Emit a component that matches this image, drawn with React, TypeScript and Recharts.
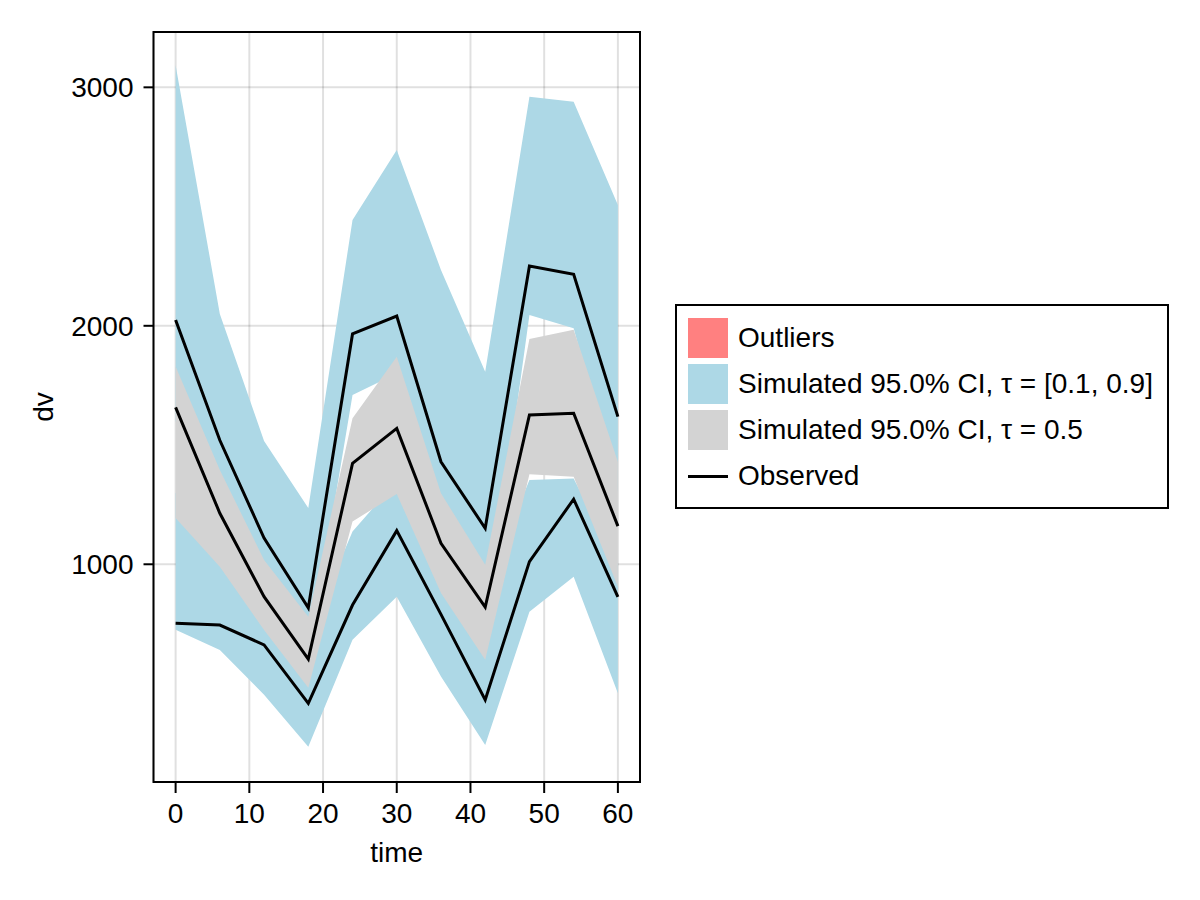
import React from 'react';
import {
  ComposedChart,
  Area,
  Line,
  XAxis,
  YAxis,
  CartesianGrid,
  ReferenceArea,
  Label,
} from 'recharts';

const times = [0, 6, 12, 18, 24, 30, 36, 42, 48, 54, 60];

// Simulated 95% CI of the 0.9 quantile
const upperCiLow = [1600, 1300, 950, 600, 1710, 1800, 1200, 700, 2045, 1990, 1300];
const upperCiHigh = [3093, 2050, 1517, 1236, 2444, 2737, 2234, 1807, 2961, 2940, 2507];

// Simulated 95% CI of the median
const medianCiLow = [1194, 990, 724, 482, 1179, 1295, 880, 600, 1378, 1367, 906];
const medianCiHigh = [1829, 1395, 1018, 780, 1612, 1870, 1298, 998, 1945, 1983, 1430];

// Simulated 95% CI of the 0.1 quantile
const lowerCiLow = [725, 641, 453, 235, 683, 864, 529, 242, 801, 948, 459];
const lowerCiHigh = [1300, 1100, 800, 700, 1137, 1350, 950, 900, 1353, 1360, 1000];

// Observed quantiles
const observedHigh = [2024, 1520, 1110, 817, 1966, 2041, 1430, 1151, 2251, 2216, 1619];
const observedMedian = [1658, 1214, 864, 602, 1423, 1570, 1088, 820, 1626, 1633, 1160];
const observedLow = [753, 745, 662, 417, 829, 1141, 790, 431, 1011, 1273, 863];

const xTicks = [0, 10, 20, 30, 40, 50, 60];
const yTicks = [1000, 2000, 3000];
const xDomain: [number, number] = [-3, 63];
const yDomain: [number, number] = [87, 3232];

const legendItems = [
  { label: 'Outliers', kind: 'patch', color: '#FF8080' },
  { label: 'Simulated 95.0% CI, τ = [0.1, 0.9]', kind: 'patch', color: '#ADD8E6' },
  { label: 'Simulated 95.0% CI, τ = 0.5', kind: 'patch', color: '#D3D3D3' },
  { label: 'Observed', kind: 'line', color: '#000000' },
];

const data = times.map((t, i) => ({
  time: t,
  upper: [upperCiLow[i], upperCiHigh[i]],
  median: [medianCiLow[i], medianCiHigh[i]],
  lower: [lowerCiLow[i], lowerCiHigh[i]],
  obsHigh: observedHigh[i],
  obsMedian: observedMedian[i],
  obsLow: observedLow[i],
}));

const FONT = '"Liberation Sans", Arial, Helvetica, sans-serif';
const FS = 28;
const BLUE = '#ADD8E6';
const GRAY = '#D3D3D3';

const XLabel = (props: any) => {
  const vb = props.viewBox || {};
  const x = vb.x + vb.width / 2;
  const y = vb.y + 80;
  return (
    <text x={x} y={y} textAnchor="middle" fontSize={FS} fontFamily={FONT} fill="#000">
      time
    </text>
  );
};

const YLabel = (props: any) => {
  const vb = props.viewBox || {};
  const x = vb.x + 53;
  const y = vb.y + vb.height / 2;
  return (
    <text
      x={x}
      y={y}
      transform={`rotate(-90 ${x} ${y})`}
      textAnchor="middle"
      fontSize={FS}
      fontFamily={FONT}
      fill="#000"
    >
      dv
    </text>
  );
};

const LegendBox = () => (
  <div
    style={{
      position: 'absolute',
      left: 675,
      top: 304,
      width: 494,
      height: 205,
      boxSizing: 'border-box',
      border: '2px solid #000',
      background: '#fff',
      fontFamily: FONT,
      fontSize: FS,
      color: '#000',
    }}
  >
    {legendItems.map((item, i) => (
      <div
        key={item.label}
        style={{
          position: 'absolute',
          left: 11,
          top: 12 + i * 46,
          height: 40,
          display: 'flex',
          alignItems: 'center',
          whiteSpace: 'nowrap',
        }}
      >
        {item.kind === 'patch' ? (
          <div style={{ width: 40, height: 40, background: item.color }} />
        ) : (
          <div style={{ width: 40, height: 40, display: 'flex', alignItems: 'center' }}>
            <div style={{ width: 40, height: 3, background: item.color }} />
          </div>
        )}
        <span style={{ marginLeft: 10, lineHeight: '40px' }}>{item.label}</span>
      </div>
    ))}
  </div>
);

export default function App() {
  return (
    <div
      style={{
        position: 'absolute',
        left: 0,
        top: 0,
        width: 1200,
        height: 900,
        background: '#fff',
      }}
    >
      <ComposedChart
        width={1200}
        height={900}
        data={data}
        margin={{ top: 32, right: 560, bottom: 58, left: 0 }}
      >
        <CartesianGrid stroke="rgba(0,0,0,0.12)" strokeWidth={2} />
        <XAxis
          dataKey="time"
          type="number"
          domain={xDomain}
          ticks={xTicks}
          allowDataOverflow
          height={60}
          axisLine={false}
          tickLine={{ stroke: '#000', strokeWidth: 2 }}
          tickSize={11}
          tickMargin={10}
          tick={{ fontSize: FS, fill: '#000', fontFamily: FONT }}
          interval={0}
        >
          <Label content={XLabel} />
        </XAxis>
        <YAxis
          type="number"
          domain={yDomain}
          ticks={yTicks}
          allowDataOverflow
          width={153.5}
          axisLine={false}
          tickLine={{ stroke: '#000', strokeWidth: 2 }}
          tickSize={10}
          tickMargin={10}
          tick={{ fontSize: FS, fill: '#000', fontFamily: FONT }}
          interval={0}
        >
          <Label content={YLabel} />
        </YAxis>
        <Area
          type="linear"
          dataKey="upper"
          stroke="none"
          fill={BLUE}
          fillOpacity={1}
          isAnimationActive={false}
          dot={false}
          activeDot={false}
        />
        <Area
          type="linear"
          dataKey="lower"
          stroke="none"
          fill={BLUE}
          fillOpacity={1}
          isAnimationActive={false}
          dot={false}
          activeDot={false}
        />
        <Area
          type="linear"
          dataKey="median"
          stroke="none"
          fill={GRAY}
          fillOpacity={1}
          isAnimationActive={false}
          dot={false}
          activeDot={false}
        />
        <Line
          type="linear"
          dataKey="obsHigh"
          stroke="#000"
          strokeWidth={3}
          dot={false}
          activeDot={false}
          isAnimationActive={false}
        />
        <Line
          type="linear"
          dataKey="obsMedian"
          stroke="#000"
          strokeWidth={3}
          dot={false}
          activeDot={false}
          isAnimationActive={false}
        />
        <Line
          type="linear"
          dataKey="obsLow"
          stroke="#000"
          strokeWidth={3}
          dot={false}
          activeDot={false}
          isAnimationActive={false}
        />
        <ReferenceArea
          x1={xDomain[0]}
          x2={xDomain[1]}
          y1={yDomain[0]}
          y2={yDomain[1]}
          fill="none"
          fillOpacity={0}
          stroke="#000"
          strokeWidth={2}
          ifOverflow="visible"
        />
      </ComposedChart>
      <LegendBox />
    </div>
  );
}
